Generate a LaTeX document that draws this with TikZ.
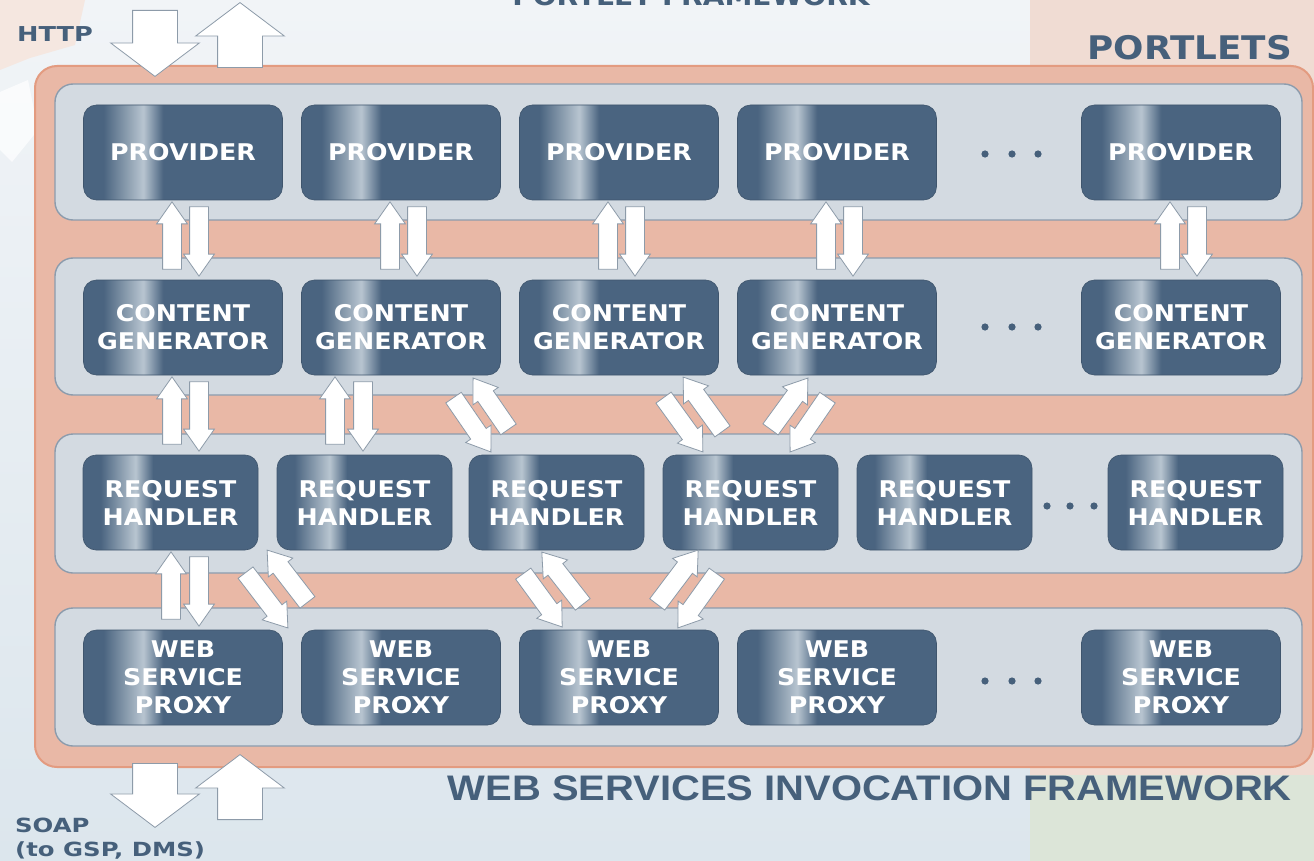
\documentclass[tikz,border=0pt]{standalone}
\usepackage{fontspec}
\setmainfont{DejaVu Sans}
\newfontfamily\boxfont[FakeStretch=1.1]{DejaVu Sans}
\newfontfamily\widefont[FakeStretch=1.25]{DejaVu Sans}
\newfontfamily\capfont[FakeStretch=1.125]{Liberation Sans}
\usetikzlibrary{shapes.arrows,calc}

\definecolor{boxdark}{HTML}{4A6480}
\definecolor{boxlight}{HTML}{B8C5D0}
\definecolor{rowfill}{HTML}{D3DAE1}
\definecolor{rowline}{HTML}{8C9CAD}
\definecolor{frfill}{HTML}{E9B8A6}
\definecolor{frline}{HTML}{E39B80}
\definecolor{labelc}{HTML}{46607B}
\definecolor{arrline}{HTML}{8D9BA9}
\definecolor{bgtop}{HTML}{F1F4F7}
\definecolor{bgbot}{HTML}{DCE6ED}
\definecolor{bgpink}{HTML}{F0DCD3}
\definecolor{bggreen}{HTML}{DCE5D8}

\pgfdeclarehorizontalshading{boxshade}{100bp}{color(0bp)=(boxdark); color(25bp)=(boxdark); color(30bp)=(boxdark); color(40bp)=(boxlight); color(45bp)=(boxdark); color(100bp)=(boxdark)}

\newcommand\blk[3][barrow]{%
  \path let \p1=($(#3)-(#2)$), \n1={atan2(\y1,\x1)}, \n2={veclen(\x1,\y1)} in
    node[#1, rotate=\n1, minimum height=\n2, anchor=tail] at (#2) {};}

\newcommand\vpair[4]{%
  \path (#1.south) ++(#3,0) coordinate (vA);
  \path (#1.south) ++(#4,0) coordinate (vB);
  \coordinate (upTip) at ($(vA)+(0,2)$);
  \coordinate (upTail) at ($(vA |- #2.north)+(0,-10)$);
  \coordinate (dnTail) at ($(vB)+(0,6)$);
  \coordinate (dnTip) at ($(vB |- #2.north)+(0,-4)$);
  \blk{upTail}{upTip}\blk{dnTail}{dnTip}}

\begin{document}
\begin{tikzpicture}[x=1pt,y=-1pt,
  pbox/.style={rounded corners=13pt, shading=boxshade, draw=boxdark!85!black, line width=0.6pt,
    minimum width=199pt, minimum height=95pt, text=white, align=center, inner sep=0pt,
    font=\boxfont\bfseries\fontsize{23}{28}\selectfont},
  rowbox/.style={draw=rowline, fill=rowfill, line width=1.4pt, rounded corners=18pt},
  framebox/.style={draw=frline, fill=frfill, line width=2pt, rounded corners=22pt},
  barrow/.style={single arrow, draw=arrline, fill=white, line width=0.8pt,
    inner xsep=0pt, inner ysep=9pt, minimum width=30pt,
    single arrow head extend=6pt, single arrow tip angle=70,
    single arrow head indent=0pt},
  bigarrow/.style={barrow, inner ysep=22pt, minimum width=88pt, single arrow head extend=22pt,
    single arrow tip angle=106},
  lbl/.style={text=labelc, inner sep=0pt}
]
\useasboundingbox (0,0) rectangle (1314,861);
% background
\shade[top color=bgtop, bottom color=bgbot] (0,0) rectangle (1314,861);
\fill[bgpink] (1030,0) rectangle (1314,775);
\fill[bggreen] (1030,775) rectangle (1314,861);
\fill[bgpink!70!white] (0,0) -- (85,0) -- (75,45) -- (30,58) -- (0,70) -- cycle;
\fill[white,opacity=.7] (0,92) -- (28,80) -- (38,130) -- (12,162) -- (0,150) -- cycle;

% titles
\node[lbl, anchor=base, font=\boxfont\bfseries\fontsize{25.5}{30}\selectfont] (pf) at (691,6) {PORTLET FRAMEWORK};
\node[lbl, anchor=base east, font=\boxfont\bfseries\fontsize{32.5}{36}\selectfont] (portlets) at (1292,60) {PORTLETS};
\node[lbl, anchor=base west, font=\widefont\bfseries\fontsize{20.5}{24}\selectfont] (http) at (17,42) {HTTP};
\node[lbl, anchor=base east, font=\capfont\bfseries\fontsize{35.5}{40}\selectfont] (wsif) at (1292,800) {WEB SERVICES INVOCATION FRAMEWORK};
\node[lbl, anchor=base west, font=\widefont\bfseries\fontsize{19.5}{24}\selectfont] (soap) at (15,832) {SOAP};
\node[lbl, anchor=base west, font=\widefont\bfseries\fontsize{19.5}{24}\selectfont] (soap2) at (15,856) {(to GSP, DMS)};

% frame and rows
\path[framebox] (35,66) rectangle (1313,767);
\path[rowbox] (55,84) rectangle (1302,220);
\path[rowbox] (55,258) rectangle (1302,395);
\path[rowbox] (55,434) rectangle (1302,573);
\path[rowbox] (55,608) rectangle (1302,746);

% boxes
\foreach \i/\x in {1/183,2/401,3/619,4/837,5/1181}{
  \node[pbox] (p\i) at (\x,152.5) {PROVIDER};
  \node[pbox] (cg\i) at (\x,327.5) {CONTENT\\GENERATOR};
  \node[pbox] (wsp\i) at (\x,677.5) {WEB\\SERVICE\\PROXY};
}
\foreach \i/\x in {1/170.5,2/364.5,3/556.5,4/750.5,5/944.5,6/1195.5}{
  \node[pbox, minimum width=175pt] (rh\i) at (\x,502.5) {REQUEST\\HANDLER};
}

% ellipses
\foreach \y in {154,327,681}{
  \foreach \x in {985,1012,1038} \fill[labelc] (\x,\y) circle (3.6pt);
}
\foreach \x in {1047,1070,1094} \fill[labelc] (\x,506) circle (3.6pt);

% vertical arrow pairs
\foreach \i in {1,...,5}{ \vpair{p\i}{cg\i}{-11}{16} }
\vpair{cg1}{rh1}{-11}{16}
\vpair{cg2}{rh2}{-66}{-38}
\vpair{rh1}{wsp1}{0.5}{28.5}

% diagonal arrow pairs: content generators <-> request handlers
\coordinate (d1a) at ($(cg2.south east)+(-47.5,22)$);
\coordinate (d1b) at ($(rh3.north west)+(22,-3)$);
\coordinate (d1c) at ($(rh3.north west)+(40,-25)$);
\coordinate (d1d) at ($(cg2.south east)+(-27.5,3)$);
\blk{d1a}{d1b}\blk{d1c}{d1d}

\coordinate (d2a) at ($(cg3.south east)+(-55.5,22)$);
\coordinate (d2b) at ($(rh4.north west)+(40,-3)$);
\coordinate (d2c) at ($(rh4.north west)+(60,-23)$);
\coordinate (d2d) at ($(cg3.south east)+(-35.5,2)$);
\blk{d2a}{d2b}\blk{d2c}{d2d}

\coordinate (d3a) at ($(rh4.north east)+(-68,-25)$);
\coordinate (d3b) at ($(cg4.south west)+(70.5,3)$);
\coordinate (d3c) at ($(cg4.south west)+(90.5,22)$);
\coordinate (d3d) at ($(rh4.north east)+(-48,-3)$);
\blk{d3a}{d3b}\blk{d3c}{d3d}

% diagonal arrow pairs: request handlers <-> web service proxies
\coordinate (e1a) at ($(rh1.south east)+(-13,22)$);
\coordinate (e1b) at ($(wsp2.north west)+(-13.5,-2)$);
\coordinate (e1c) at ($(wsp2.north west)+(6.5,-27)$);
\coordinate (e1d) at ($(rh1.south east)+(9,0)$);
\blk{e1a}{e1b}\blk{e1c}{e1d}

\coordinate (e2a) at ($(rh3.south)+(-33.5,23)$);
\coordinate (e2b) at ($(wsp3.north)+(-57,-3)$);
\coordinate (e2c) at ($(wsp3.north)+(-36,-25)$);
\coordinate (e2d) at ($(rh3.south)+(-14.5,2)$);
\blk{e2a}{e2b}\blk{e2c}{e2d}

\coordinate (e3a) at ($(wsp3.north)+(38,-25)$);
\coordinate (e3b) at ($(rh4.south)+(-52.5,0)$);
\coordinate (e3c) at ($(rh4.south)+(-33.5,23)$);
\coordinate (e3d) at ($(wsp3.north)+(59,-2)$);
\blk{e3a}{e3b}\blk{e3c}{e3d}

% HTTP and SOAP arrows
\coordinate (hdTail) at (155,10);
\coordinate (hdTip) at (155,76);
\coordinate (huTail) at (240,68);
\coordinate (huTip) at (240,3);
\blk[bigarrow]{hdTail}{hdTip}\blk[bigarrow]{huTail}{huTip}
\coordinate (sdTail) at (155,763);
\coordinate (sdTip) at (155,827);
\coordinate (suTail) at (240,820);
\coordinate (suTip) at (240,755);
\blk[bigarrow]{sdTail}{sdTip}\blk[bigarrow]{suTail}{suTip}
\end{tikzpicture}
\end{document}
